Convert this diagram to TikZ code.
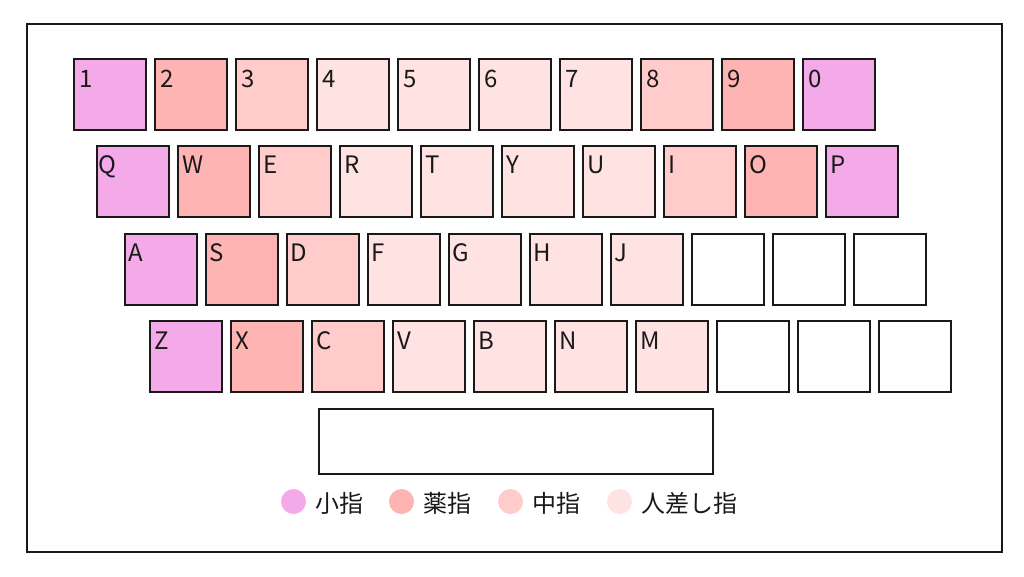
\documentclass[tikz,border=0pt]{standalone}
\usepackage{fontspec}
\setmainfont{Noto Sans CJK JP}
\usetikzlibrary{positioning}
\definecolor{pinky}{HTML}{F4AAE8}
\definecolor{ring}{HTML}{FFB4B4}
\definecolor{middle}{HTML}{FFCBCB}
\definecolor{index}{HTML}{FFE2E2}
\definecolor{none}{HTML}{FFFFFF}
\tikzstyle{key} = [rectangle, minimum width=72pt, minimum height=71pt, inner sep=0pt,
    draw=black!90, line width=2pt]
\tikzstyle{keylbl} = [anchor=base west, inner sep=0pt, text=black!90,
    font=\fontsize{24}{28}\selectfont]
\tikzstyle{dot} = [circle, minimum size=25pt, inner sep=0pt]
\tikzstyle{legend} = [anchor=west, inner sep=0pt, text=black!90,
    font=\fontsize{24}{28}\selectfont]

\begin{document}
\begin{tikzpicture}[x=1pt, y=-1pt, node distance=7pt]
\useasboundingbox (0,0) rectangle (1024,576);
\node (frame) [rectangle, draw=black!90, line width=2pt,
    minimum width=975pt, minimum height=527.5pt] at (514.5,287.75) {};

% number row
\node (k1) [key, fill=pinky] at (110,94.5) {};
\node (t1) [keylbl] at ([xshift=6pt,yshift=-29pt]k1.north west) {1};
\foreach \k/\c [remember=\k as \p (initially 1)] in
    {2/ring,3/middle,4/index,5/index,6/index,7/index,8/middle,9/ring,0/pinky} {
  \node (k\k) [key, fill=\c, right=of k\p] {};
  \node (t\k) [keylbl] at ([xshift=6pt,yshift=-29pt]k\k.north west) {\k};
}

% upper row
\node (kQ) [key, fill=pinky] at (133,181) {};
\node (tQ) [keylbl] at ([xshift=2pt,yshift=-29pt]kQ.north west) {Q};
\foreach \k/\c [remember=\k as \p (initially Q)] in
    {W/ring,E/middle,R/index,T/index,Y/index,U/index,I/middle,O/ring,P/pinky} {
  \node (k\k) [key, fill=\c, right=of k\p] {};
  \node (t\k) [keylbl] at ([xshift=5pt,yshift=-29pt]k\k.north west) {\k};
}

% home row
\node (kA) [key, fill=pinky] at (160.5,269) {};
\node (tA) [keylbl] at ([xshift=5pt,yshift=-29pt]kA.north west) {A};
\foreach \k/\c [remember=\k as \p (initially A)] in
    {S/ring,D/middle,F/index,G/index,H/index,J/index} {
  \node (k\k) [key, fill=\c, right=of k\p] {};
  \node (t\k) [keylbl] at ([xshift=5pt,yshift=-29pt]k\k.north west) {\k};
}
\foreach \k [remember=\k as \p (initially J)] in {a1,a2,a3}
  \node (k\k) [key, fill=none, right=of k\p] {};

% lower row
\node (kZ) [key, fill=pinky] at (186,356.5) {};
\node (tZ) [keylbl] at ([xshift=5pt,yshift=-29pt]kZ.north west) {Z};
\foreach \k/\c [remember=\k as \p (initially Z)] in
    {X/ring,C/middle,V/index,B/index,N/index,M/index} {
  \node (k\k) [key, fill=\c, right=of k\p] {};
  \node (t\k) [keylbl] at ([xshift=5pt,yshift=-29pt]k\k.north west) {\k};
}
\foreach \k [remember=\k as \p (initially M)] in {z1,z2,z3}
  \node (k\k) [key, fill=none, right=of k\p] {};

% space bar
\node (space) [key, minimum width=394pt, minimum height=65pt] at (516,441.5) {};

% legend
\node (d1) [dot, fill=pinky] at (293.5,501.5) {};
\node (l1) [legend, right=9pt of d1, yshift=-2pt] {小指};
\node (d2) [dot, fill=ring] at (401.5,501.5) {};
\node (l2) [legend, right=9pt of d2, yshift=-2pt] {薬指};
\node (d3) [dot, fill=middle] at (510.5,501.5) {};
\node (l3) [legend, right=9pt of d3, yshift=-2pt] {中指};
\node (d4) [dot, fill=index] at (619.5,501.5) {};
\node (l4) [legend, right=9pt of d4, yshift=-2pt] {人差し指};
\end{tikzpicture}
\end{document}
